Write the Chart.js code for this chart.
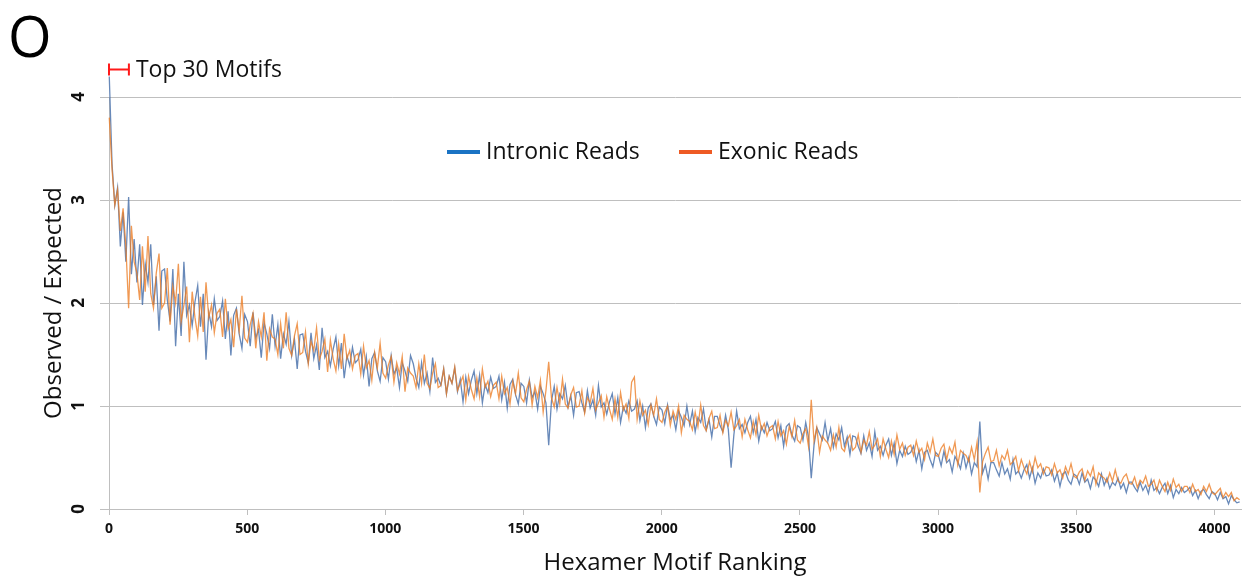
<!DOCTYPE html>
<html>
<head>
<meta charset="utf-8">
<script src="https://cdn.jsdelivr.net/npm/chart.js@4.4.1/dist/chart.umd.min.js"></script>
<style>
  html, body { margin: 0; padding: 0; background: #ffffff; }
  #wrap { width: 1249px; height: 579px; position: relative; }
</style>
</head>
<body>
<div id="wrap"><canvas id="c" width="1249" height="579"></canvas></div>
<script>
// ---- Data (every 10th hexamer rank, starting at rank 1) ----
const seriesNames = ["Intronic Reads", "Exonic Reads"];
const xTickValues = [0, 500, 1000, 1500, 2000, 2500, 3000, 3500, 4000];
const yTickValues = [0, 1, 2, 3, 4];
const panelLabel = "O";
const bracketLabel = "Top 30 Motifs";
const bracketRange = [0, 72];
const bracketLevel = 4.27;

const intronic = [
  4.20, 3.35, 2.95, 3.12, 2.55, 2.88, 2.40, 3.03, 2.28, 2.62,
  2.20, 2.57, 1.98, 2.38, 2.20, 2.57, 1.98, 2.26, 1.73, 2.31,
  2.33, 2.03, 1.82, 2.33, 1.58, 2.09, 1.68, 2.40, 1.88, 1.98,
  1.78, 2.01, 2.17, 1.77, 2.09, 1.45, 1.91, 1.77, 2.04, 1.83,
  1.87, 2.02, 1.65, 1.92, 1.49, 1.88, 1.95, 1.70, 1.56, 1.89,
  1.82, 1.58, 1.91, 1.66, 1.74, 1.47, 1.81, 1.70, 1.56, 1.89,
  1.58, 1.79, 1.46, 1.70, 1.60, 1.82, 1.49, 1.65, 1.36, 1.69,
  1.70, 1.53, 1.42, 1.71, 1.46, 1.59, 1.35, 1.76, 1.47, 1.53,
  1.39, 1.55, 1.67, 1.39, 1.61, 1.27, 1.49, 1.39, 1.57, 1.42,
  1.45, 1.55, 1.30, 1.48, 1.19, 1.46, 1.52, 1.34, 1.24, 1.47,
  1.43, 1.26, 1.49, 1.31, 1.37, 1.18, 1.42, 1.34, 1.24, 1.49,
  1.41, 1.27, 1.18, 1.42, 1.22, 1.32, 1.14, 1.47, 1.23, 1.27,
  1.20, 1.36, 1.12, 1.29, 1.22, 1.37, 1.14, 1.26, 1.04, 1.28,
  1.12, 1.25, 1.34, 1.12, 1.30, 1.03, 1.21, 1.13, 1.28, 1.17,
  1.19, 1.29, 1.06, 1.23, 0.98, 1.21, 1.26, 1.11, 1.02, 1.22,
  1.19, 1.03, 1.25, 1.08, 1.14, 0.97, 1.19, 1.12, 1.03, 0.62,
  1.05, 1.19, 0.97, 1.12, 1.07, 1.20, 0.99, 1.10, 0.91, 1.13,
  1.14, 1.03, 0.94, 1.15, 0.98, 1.06, 0.91, 1.20, 0.99, 1.03,
  0.92, 1.04, 1.12, 0.92, 1.08, 0.84, 0.99, 0.93, 1.05, 0.95,
  0.97, 1.05, 0.86, 1.00, 0.79, 0.98, 1.02, 0.90, 0.82, 0.99,
  0.96, 0.83, 1.01, 0.87, 0.91, 0.77, 0.95, 0.89, 0.81, 1.00,
  0.82, 0.95, 0.75, 0.89, 0.84, 0.97, 0.77, 0.87, 0.70, 0.90,
  0.90, 0.81, 0.75, 0.91, 0.77, 0.40, 0.72, 0.95, 0.78, 0.82,
  0.74, 0.84, 0.90, 0.74, 0.87, 0.66, 0.80, 0.74, 0.84, 0.76,
  0.78, 0.85, 0.69, 0.81, 0.61, 0.80, 0.83, 0.72, 0.66, 0.81,
  0.79, 0.67, 0.84, 0.70, 0.30, 0.62, 0.79, 0.73, 0.67, 0.84,
  0.66, 0.78, 0.60, 0.73, 0.67, 0.79, 0.61, 0.70, 0.53, 0.71,
  0.70, 0.61, 0.54, 0.71, 0.57, 0.64, 0.51, 0.75, 0.57, 0.61,
  0.52, 0.62, 0.68, 0.52, 0.64, 0.44, 0.57, 0.51, 0.61, 0.53,
  0.55, 0.61, 0.46, 0.57, 0.39, 0.55, 0.57, 0.48, 0.41, 0.55,
  0.52, 0.42, 0.56, 0.45, 0.48, 0.36, 0.51, 0.46, 0.39, 0.54,
  0.40, 0.50, 0.34, 0.45, 0.41, 0.85, 0.35, 0.43, 0.29, 0.45,
  0.45, 0.38, 0.32, 0.45, 0.34, 0.39, 0.29, 0.48, 0.34, 0.37,
  0.30, 0.38, 0.43, 0.30, 0.40, 0.25, 0.35, 0.30, 0.39, 0.32,
  0.33, 0.38, 0.27, 0.35, 0.22, 0.34, 0.36, 0.28, 0.24, 0.34,
  0.32, 0.24, 0.35, 0.26, 0.29, 0.20, 0.31, 0.28, 0.22, 0.34,
  0.23, 0.30, 0.20, 0.26, 0.23, 0.30, 0.20, 0.25, 0.16, 0.26,
  0.26, 0.21, 0.17, 0.26, 0.18, 0.23, 0.15, 0.28, 0.18, 0.21,
  0.15, 0.21, 0.25, 0.15, 0.23, 0.11, 0.19, 0.15, 0.21, 0.16,
  0.18, 0.21, 0.13, 0.18, 0.10, 0.17, 0.19, 0.14, 0.10, 0.17,
  0.15, 0.09, 0.16, 0.10, 0.12, 0.05, 0.13, 0.09, 0.06, 0.07
];

const exonic = [
  3.80, 3.30, 2.95, 3.10, 2.70, 2.92, 2.55, 1.95, 2.75, 2.40,
  2.29, 2.03, 2.55, 2.11, 2.65, 2.09, 1.95, 2.29, 2.48, 1.95,
  2.00, 2.34, 1.79, 2.16, 2.00, 2.38, 1.82, 1.98, 2.16, 1.62,
  2.11, 1.86, 1.68, 2.06, 1.72, 2.20, 1.86, 1.98, 1.71, 1.90,
  1.94, 1.67, 2.04, 1.75, 1.84, 1.57, 1.94, 1.73, 2.07, 1.66,
  1.62, 1.79, 1.90, 1.56, 1.82, 1.67, 1.91, 1.44, 1.75, 1.67,
  1.65, 1.50, 1.80, 1.56, 1.91, 1.56, 1.49, 1.68, 1.80, 1.50,
  1.52, 1.72, 1.41, 1.63, 1.54, 1.76, 1.45, 1.53, 1.65, 1.33,
  1.64, 1.46, 1.34, 1.60, 1.36, 1.70, 1.46, 1.54, 1.36, 1.49,
  1.51, 1.31, 1.58, 1.37, 1.44, 1.25, 1.52, 1.37, 1.61, 1.32,
  1.27, 1.40, 1.48, 1.23, 1.42, 1.31, 1.48, 1.14, 1.37, 1.32,
  1.29, 1.18, 1.41, 1.22, 1.50, 1.22, 1.17, 1.32, 1.41, 1.18,
  1.20, 1.36, 1.12, 1.29, 1.22, 1.38, 1.15, 1.22, 1.29, 1.06,
  1.29, 1.16, 1.07, 1.27, 1.09, 1.36, 1.18, 1.24, 1.09, 1.20,
  1.23, 1.07, 1.29, 1.12, 1.18, 1.02, 1.24, 1.12, 1.32, 1.08,
  1.04, 1.16, 1.24, 1.01, 1.19, 1.08, 1.25, 0.94, 1.15, 1.43,
  1.08, 0.99, 1.18, 1.02, 1.26, 1.02, 0.98, 1.11, 1.18, 0.99,
  1.00, 1.15, 0.93, 1.08, 1.03, 1.17, 0.96, 1.03, 1.10, 0.89,
  1.09, 0.97, 0.87, 1.07, 0.89, 1.13, 0.96, 1.02, 0.88, 1.23,
  1.28, 0.87, 1.05, 0.91, 0.96, 0.82, 1.01, 0.91, 1.07, 0.87,
  0.84, 0.94, 1.00, 0.81, 0.95, 0.87, 1.00, 0.74, 0.91, 0.87,
  0.85, 0.77, 0.94, 0.80, 1.01, 0.81, 0.76, 0.88, 0.95, 0.78,
  0.79, 0.91, 0.74, 0.86, 0.81, 0.94, 0.77, 0.81, 0.87, 0.70,
  0.87, 0.77, 0.69, 0.85, 0.72, 0.91, 0.77, 0.83, 0.71, 0.79,
  0.81, 0.68, 0.85, 0.71, 0.76, 0.63, 0.80, 0.70, 0.86, 0.67,
  0.64, 0.73, 0.78, 0.61, 1.06, 0.66, 0.79, 0.55, 0.71, 0.67,
  0.64, 0.57, 0.72, 0.60, 0.79, 0.59, 0.56, 0.67, 0.72, 0.57,
  0.60, 0.72, 0.55, 0.67, 0.62, 0.75, 0.58, 0.62, 0.68, 0.51,
  0.68, 0.58, 0.50, 0.66, 0.53, 0.72, 0.58, 0.64, 0.52, 0.60,
  0.62, 0.52, 0.66, 0.55, 0.59, 0.48, 0.64, 0.55, 0.68, 0.52,
  0.51, 0.59, 0.63, 0.48, 0.60, 0.54, 0.65, 0.43, 0.57, 0.54,
  0.52, 0.46, 0.60, 0.48, 0.65, 0.16, 0.46, 0.54, 0.60, 0.46,
  0.47, 0.57, 0.42, 0.52, 0.48, 0.57, 0.43, 0.46, 0.51, 0.37,
  0.48, 0.40, 0.34, 0.46, 0.36, 0.50, 0.40, 0.44, 0.34, 0.41,
  0.40, 0.33, 0.44, 0.35, 0.38, 0.30, 0.41, 0.34, 0.44, 0.32,
  0.30, 0.36, 0.39, 0.28, 0.37, 0.32, 0.41, 0.24, 0.35, 0.32,
  0.30, 0.26, 0.35, 0.27, 0.38, 0.27, 0.25, 0.31, 0.34, 0.25,
  0.24, 0.31, 0.21, 0.28, 0.25, 0.32, 0.22, 0.24, 0.28, 0.18,
  0.28, 0.22, 0.17, 0.26, 0.18, 0.29, 0.21, 0.24, 0.17, 0.22,
  0.22, 0.16, 0.24, 0.17, 0.19, 0.14, 0.22, 0.17, 0.24, 0.16,
  0.14, 0.17, 0.20, 0.11, 0.16, 0.12, 0.16, 0.08, 0.11, 0.09
];

// hexamer rank for each sampled value (every 10th rank)
const ranks = intronic.map((_, i) => 1 + i * 10);

// ---- Styles ----
const BLUE_LINE = "rgba(62, 104, 165, 0.78)";
const ORANGE_LINE = "rgba(236, 124, 36, 0.78)";
const BLUE_KEY = "#1a73c4";
const ORANGE_KEY = "#ee5a24";
const GRID = "#bfbfbf";
const FONT = "'Open Sans', 'Noto Sans', sans-serif";

const decorPlugin = {
  id: "decor",
  afterDraw(chart) {
    const ctx = chart.ctx;
    const xs = chart.scales.x, ys = chart.scales.y;
    ctx.save();
    // panel label
    ctx.fillStyle = "#000";
    ctx.font = "56px " + FONT;
    ctx.textAlign = "left";
    ctx.textBaseline = "alphabetic";
    ctx.fillText(panelLabel, 8, 57);

    // y tick labels, rotated
    ctx.font = "bold 17px " + FONT;
    ctx.fillStyle = "#111";
    ctx.textAlign = "center";
    ctx.textBaseline = "middle";
    ys.ticks.forEach(t => {
      const py = ys.getPixelForValue(t.value);
      ctx.save();
      ctx.translate(79, py);
      ctx.rotate(-Math.PI / 2);
      ctx.fillText(String(t.value), 0, 0);
      ctx.restore();
    });

    // Top 30 bracket
    const x0 = xs.getPixelForValue(bracketRange[0]);
    const x1 = xs.getPixelForValue(bracketRange[1]);
    const by = Math.round(ys.getPixelForValue(bracketLevel)) + 0.5;
    ctx.strokeStyle = "#ff1a1a";
    ctx.lineWidth = 2;
    ctx.beginPath();
    ctx.moveTo(x0, by); ctx.lineTo(x1, by);
    ctx.moveTo(x0, by - 6); ctx.lineTo(x0, by + 6);
    ctx.moveTo(x1, by - 6); ctx.lineTo(x1, by + 6);
    ctx.stroke();
    ctx.fillStyle = "#111";
    ctx.font = "23px " + FONT;
    ctx.textAlign = "left";
    ctx.textBaseline = "middle";
    ctx.fillText(bracketLabel, x1 + 7, by + 1);

    // legend
    ctx.font = "23px " + FONT;
    ctx.textBaseline = "middle";
    const ly = 152;
    const keys = [
      { x: 447, color: BLUE_KEY, text: seriesNames[0] },
      { x: 679, color: ORANGE_KEY, text: seriesNames[1] }
    ];
    keys.forEach(k => {
      ctx.strokeStyle = k.color;
      ctx.lineWidth = 4;
      ctx.beginPath();
      ctx.moveTo(k.x, ly); ctx.lineTo(k.x + 33, ly);
      ctx.stroke();
      ctx.fillStyle = "#111";
      ctx.fillText(k.text, k.x + 39, ly);
    });
    ctx.restore();
  }
};

new Chart(document.getElementById("c"), {
  type: "line",
  data: {
    datasets: [
      {
        label: seriesNames[0],
        data: intronic.map((v, i) => ({ x: ranks[i], y: v })),
        borderColor: BLUE_LINE,
        borderWidth: 1.3,
        pointRadius: 0,
        tension: 0,
        clip: false,
        order: 2
      },
      {
        label: seriesNames[1],
        data: exonic.map((v, i) => ({ x: ranks[i], y: v })),
        borderColor: ORANGE_LINE,
        borderWidth: 1.3,
        pointRadius: 0,
        tension: 0,
        clip: false,
        order: 1
      }
    ]
  },
  options: {
    responsive: false,
    animation: false,
    layout: { padding: { left: 0, right: 8, top: 97, bottom: 0 } },
    plugins: { legend: { display: false }, tooltip: { enabled: false } },
    scales: {
      x: {
        type: "linear",
        min: 0,
        max: 4096,
        afterBuildTicks: s => { s.ticks = xTickValues.map(v => ({ value: v })); },
        afterFit: s => { s.height = 70; },
        grid: { drawOnChartArea: false, color: GRID, tickLength: 6 },
        border: { color: GRID },
        ticks: { padding: 6, color: "#111", font: { family: FONT, size: 14, weight: "bold" },
                 maxRotation: 0, callback: v => String(v) },
        title: { display: true, text: "Hexamer Motif Ranking", color: "#111",
                 font: { family: FONT, size: 24 }, padding: { top: 0, bottom: 1 } }
      },
      y: {
        min: 0,
        max: 4,
        afterBuildTicks: s => { s.ticks = yTickValues.map(v => ({ value: v })); },
        afterFit: s => { s.width = 109; },
        grid: { color: GRID, tickLength: 9 },
        border: { color: GRID },
        ticks: { display: false },
        title: { display: true, text: "Observed / Expected", color: "#111",
                 font: { family: FONT, size: 24 }, padding: { top: 40, bottom: 0 } }
      }
    }
  },
  plugins: [decorPlugin]
});
</script>
</body>
</html>
